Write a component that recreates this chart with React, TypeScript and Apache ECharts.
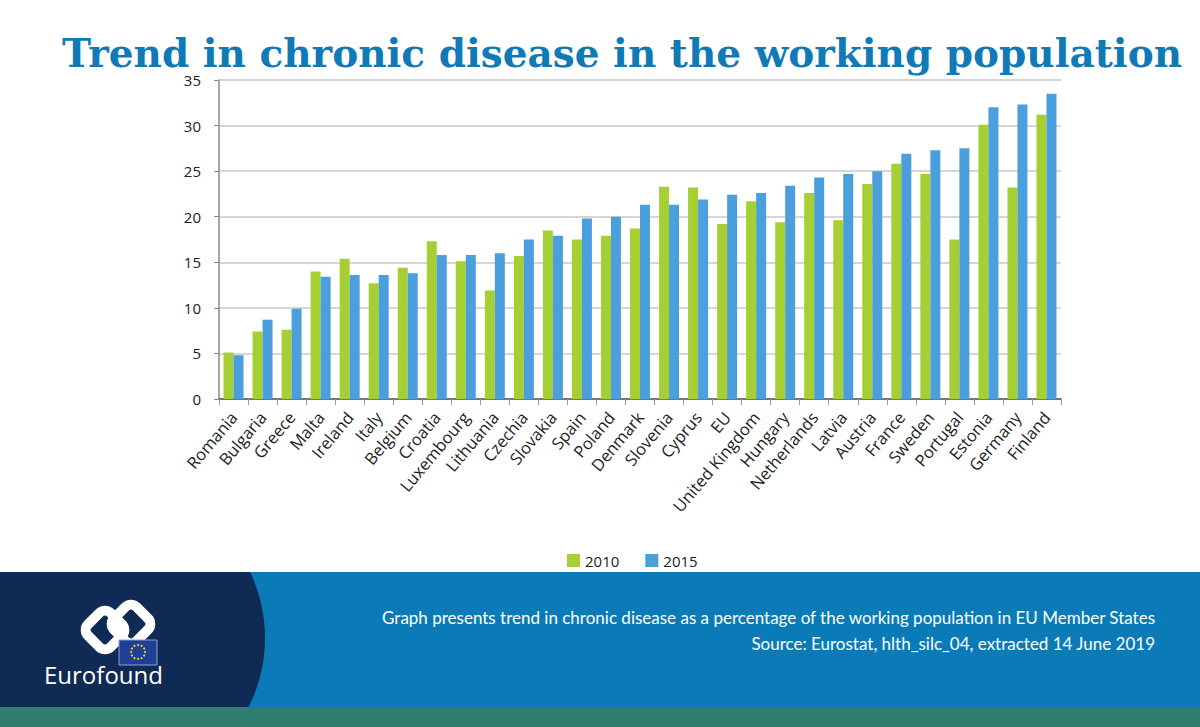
import React, { useEffect, useRef } from "react";
import * as echarts from "echarts";

const countries = [
  "Romania", "Bulgaria", "Greece", "Malta", "Ireland", "Italy", "Belgium", "Croatia",
  "Luxembourg", "Lithuania", "Czechia", "Slovakia", "Spain", "Poland", "Denmark",
  "Slovenia", "Cyprus", "EU", "United Kingdom", "Hungary", "Netherlands", "Latvia",
  "Austria", "France", "Sweden", "Portugal", "Estonia", "Germany", "Finland",
];

const values2010 = [
  5.1, 7.4, 7.6, 14.0, 15.4, 12.7, 14.4, 17.3, 15.1, 11.9, 15.7, 18.5, 17.5, 17.9, 18.7,
  23.3, 23.2, 19.2, 21.7, 19.4, 22.6, 19.6, 23.6, 25.8, 24.7, 17.5, 30.1, 23.2, 31.2,
];

const values2015 = [
  4.8, 8.7, 9.9, 13.4, 13.6, 13.6, 13.8, 15.8, 15.8, 16.0, 17.5, 17.9, 19.8, 20.0, 21.3,
  21.3, 21.9, 22.4, 22.6, 23.4, 24.3, 24.7, 25.0, 26.9, 27.3, 27.5, 32.0, 32.3, 33.5,
];

const yTicks = { min: 0, max: 35, interval: 5 };

const footerLine1 =
  "Graph presents trend in chronic disease as a percentage of the working population in EU Member States";
const footerLine2 = "Source: Eurostat, hlth_silc_04, extracted 14 June 2019";

function navyShape(): number[][] {
  const pts: number[][] = [[0, 572]];
  const cx = 112;
  const cy = 638;
  const R = 153;
  for (let y = 572; y <= 707; y += 3) {
    const dy = y - cy;
    pts.push([cx + Math.sqrt(R * R - dy * dy), y]);
  }
  pts.push([cx + Math.sqrt(R * R - 69 * 69), 707]);
  pts.push([0, 707]);
  return pts;
}

function starPoints(): any[] {
  const out: any[] = [];
  const cx = 138;
  const cy = 652;
  for (let i = 0; i < 12; i++) {
    const a = (i / 12) * Math.PI * 2;
    out.push({
      type: "circle",
      shape: { cx: cx + Math.cos(a) * 7, cy: cy + Math.sin(a) * 7, r: 1 },
      style: { fill: "#f5dc1e" },
      z: 12,
    });
  }
  return out;
}

export default function App() {
  const ref = useRef<HTMLDivElement>(null);

  useEffect(() => {
    if (!ref.current) return;
    const chart = echarts.init(ref.current, undefined, { renderer: "svg" });
    const option: any = {
      animation: false,
      backgroundColor: "#ffffff",
      title: {
        text: "Trend in chronic disease in the working population",
        left: 617,
        top: 28,
        textAlign: "center",
        textStyle: {
          fontFamily: "DejaVu Serif",
          fontWeight: "bold",
          fontSize: 39,
          color: "#0f7ab5",
        },
      },
      legend: {
        data: ["2010", "2015"],
        left: 562,
        top: 548,
        itemWidth: 13,
        itemHeight: 13,
        itemGap: 26,
        icon: "rect",
        textStyle: { fontFamily: "Open Sans", fontSize: 15, color: "#222" },
      },
      grid: { left: 219, right: 139, top: 80, bottom: 328 },
      xAxis: {
        type: "category",
        data: countries,
        axisLine: { lineStyle: { color: "#555", width: 1.5 } },
        axisTick: { show: true, length: 6, lineStyle: { color: "#999" } },
        axisLabel: {
          rotate: 50,
          interval: 0,
          fontFamily: "Open Sans",
          fontSize: 16.5,
          color: "#222",
          margin: 15,
        },
      },
      yAxis: {
        type: "value",
        min: yTicks.min,
        max: yTicks.max,
        interval: yTicks.interval,
        axisLine: { show: true, lineStyle: { color: "#888", width: 1.5 } },
        axisTick: { show: true, length: 5, lineStyle: { color: "#888" } },
        axisLabel: { fontFamily: "Open Sans", fontSize: 15, color: "#222", margin: 18 },
        splitLine: { lineStyle: { color: "#c8c8c8", width: 1.5 } },
      },
      series: [
        {
          name: "2010",
          type: "bar",
          data: values2010,
          barWidth: 10,
          barGap: "0%",
          itemStyle: { color: "#a6cf34" },
        },
        {
          name: "2015",
          type: "bar",
          data: values2015,
          barWidth: 10,
          itemStyle: { color: "#4a9fdc" },
        },
      ],
      graphic: [
        { type: "rect", shape: { x: 0, y: 572, width: 1200, height: 135 }, style: { fill: "#0a7bb6" }, z: 10 },
        { type: "rect", shape: { x: 0, y: 707, width: 1200, height: 20 }, style: { fill: "#2e7d6f" }, z: 10 },
        { type: "polygon", shape: { points: navyShape() }, style: { fill: "#0f2a54" }, z: 11 },
        {
          type: "rect",
          x: 105,
          y: 630,
          rotation: Math.PI / 4,
          shape: { x: -16, y: -16, width: 32, height: 32, r: 8 },
          style: { fill: "none", stroke: "#ffffff", lineWidth: 10 },
          z: 12,
        },
        {
          type: "rect",
          x: 131,
          y: 624,
          rotation: Math.PI / 4,
          shape: { x: -16, y: -16, width: 32, height: 32, r: 8 },
          style: { fill: "none", stroke: "#ffffff", lineWidth: 10 },
          z: 12,
        },
        {
          type: "rect",
          shape: { x: 119, y: 640, width: 38, height: 25 },
          style: { fill: "#1f3f95", stroke: "#8aa2d8", lineWidth: 1 },
          z: 12,
        },
        ...starPoints(),
        {
          type: "text",
          x: 44,
          y: 686,
          style: {
            text: "Eurofound",
            fill: "#ffffff",
            fontFamily: "Open Sans",
            fontSize: 24,
            verticalAlign: "bottom",
          },
          z: 12,
        },
        {
          type: "text",
          x: 1155,
          y: 617,
          style: {
            text: footerLine1,
            fill: "#ffffff",
            fontFamily: "Lato",
            fontSize: 17,
            align: "right",
            verticalAlign: "middle",
          },
          z: 12,
        },
        {
          type: "text",
          x: 1155,
          y: 643,
          style: {
            text: footerLine2,
            fill: "#ffffff",
            fontFamily: "Lato",
            fontSize: 17,
            align: "right",
            verticalAlign: "middle",
          },
          z: 12,
        },
      ],
    };
    chart.setOption(option);
    return () => chart.dispose();
  }, []);

  return (
    <div
      ref={ref}
      style={{ position: "fixed", left: 0, top: 0, width: 1200, height: 727 }}
    />
  );
}
